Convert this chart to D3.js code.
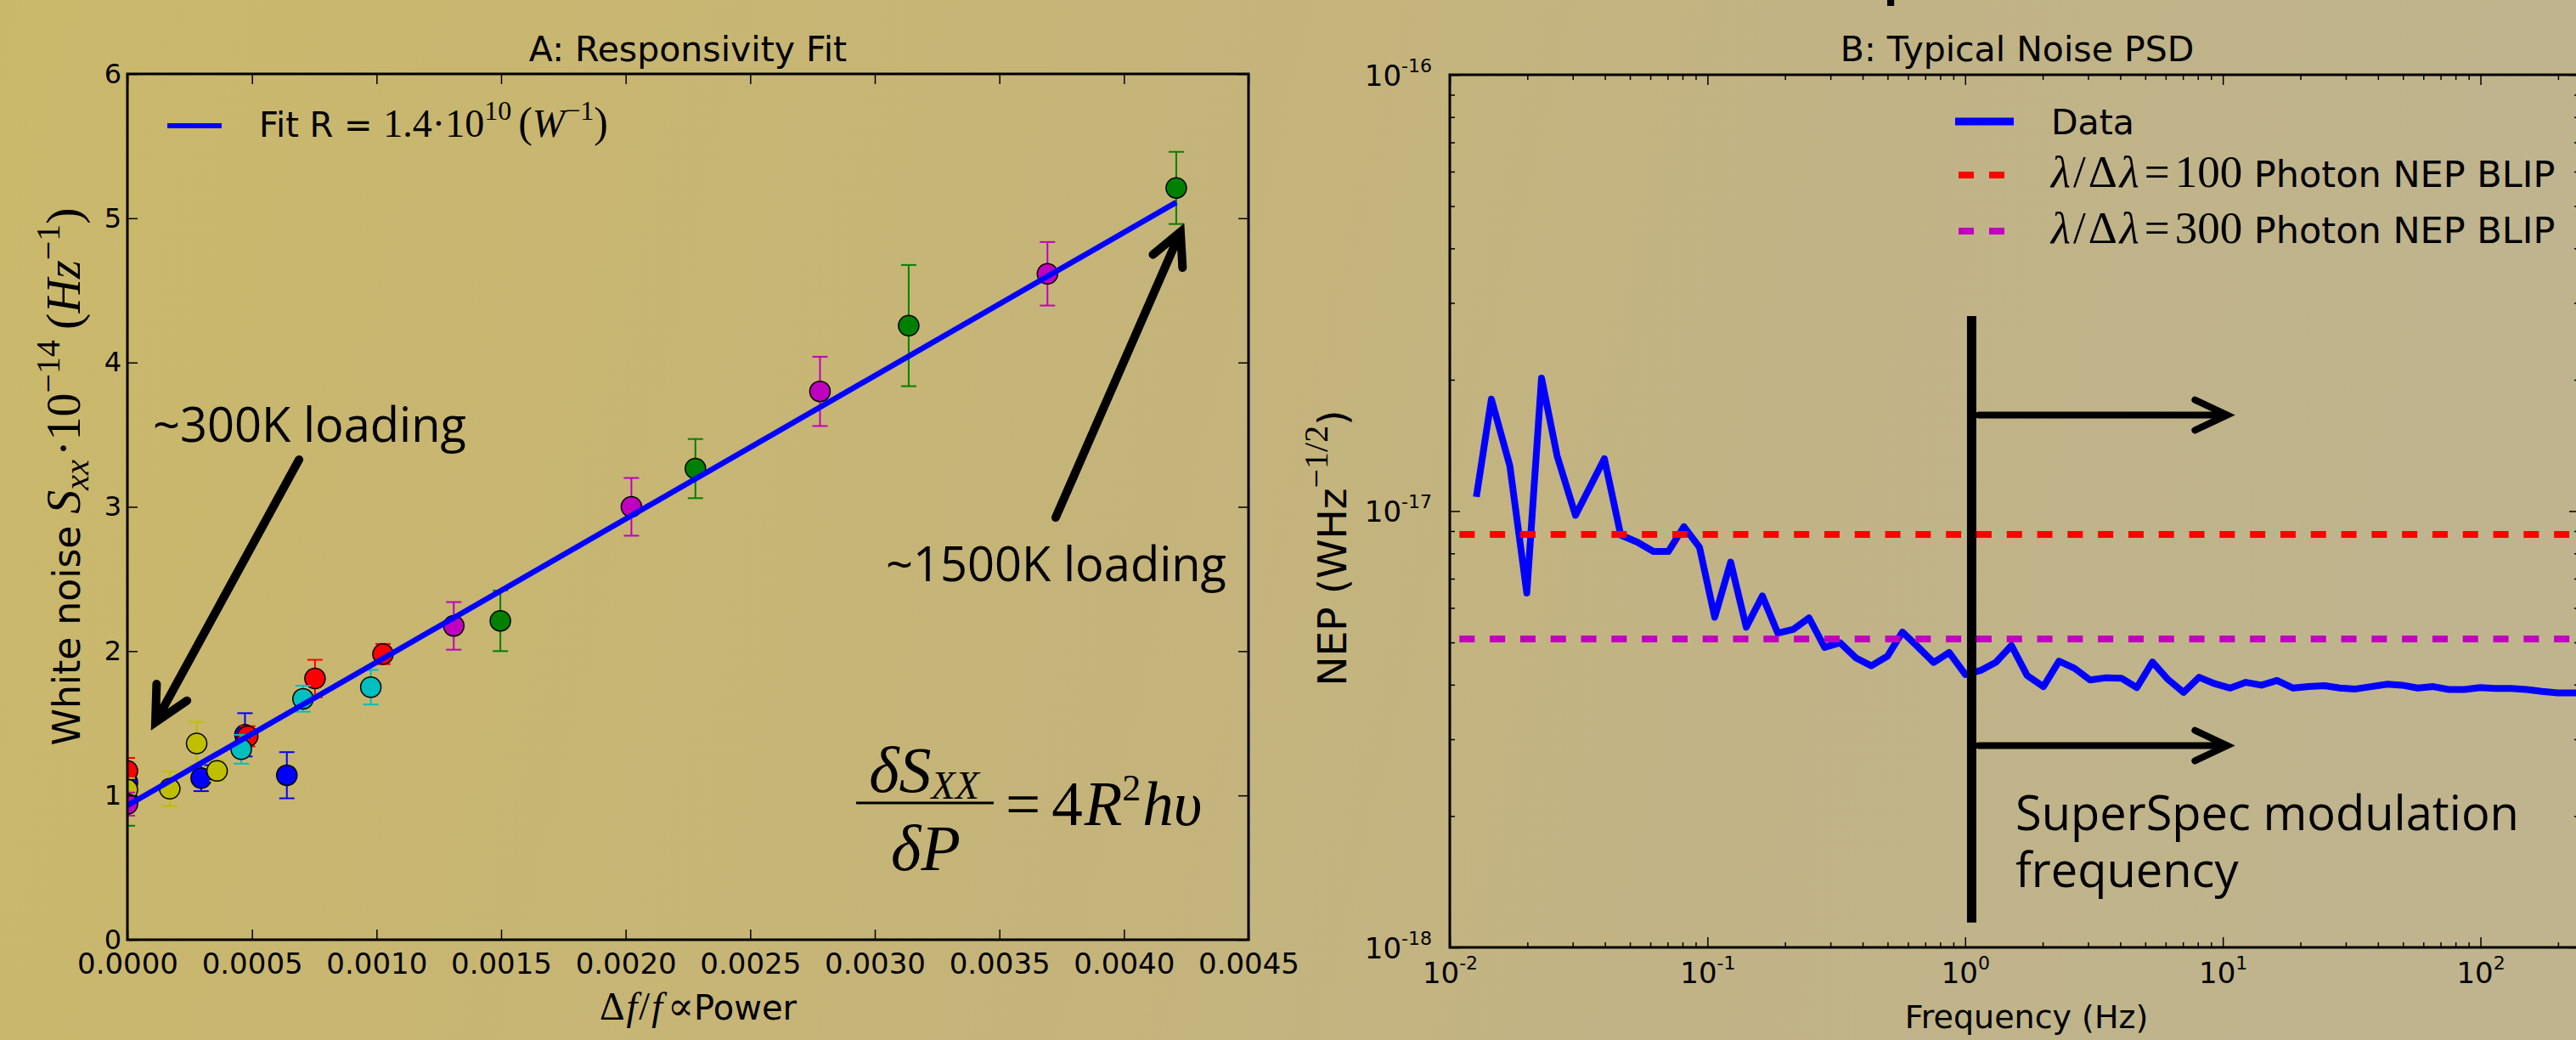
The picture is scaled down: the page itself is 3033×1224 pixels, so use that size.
<!DOCTYPE html>
<html>
<head>
<meta charset="utf-8">
<script src="https://cdn.jsdelivr.net/npm/d3@7"></script>
<style>
  html, body { margin: 0; padding: 0; overflow: hidden; }
  svg { display: block; }
</style>
</head>
<body>
<script>

  var W = 3033, H = 1224;
  var SANS = '"DejaVu Sans", sans-serif';
  var SERIF = '"Liberation Serif", "DejaVu Serif", serif';
  var PPT = '"Open Sans", "Noto Sans", sans-serif';

  // ---- panel A: white noise vs frequency shift ----
  var dfRed = [0, 0.000483, 0.000753, 0.001026];
  var sxxRed = [1.17, 1.41, 1.81, 1.98];
  var errRed = [0.09, 0.07, 0.13, 0.07];

  var dfBlue = [0, 0.000296, 0.000472, 0.00064];
  var sxxBlue = [1.09, 1.12, 1.42, 1.14];
  var errBlue = [0.10, 0.09, 0.15, 0.16];

  var dfYellow = [0, 0.00017, 0.000278, 0.00036];
  var sxxYellow = [1.04, 1.046, 1.36, 1.17];
  var errYellow = [0.08, 0.12, 0.15, 0.07];

  var dfCyan = [0.000457, 0.000705, 0.000977];
  var sxxCyan = [1.32, 1.67, 1.75];
  var errCyan = [0.10, 0.09, 0.12];

  var dfMagenta = [0, 0.00131, 0.002023, 0.00278, 0.003693];
  var sxxMagenta = [0.94, 2.175, 3.0, 3.80, 4.615];
  var errMagenta = [0.08, 0.165, 0.20, 0.24, 0.22];

  var dfGreen = [0, 0.001497, 0.00228, 0.003136, 0.00421];
  var sxxGreen = [0.96, 2.21, 3.265, 4.256, 5.21];
  var errGreen = [0.17, 0.21, 0.205, 0.42, 0.25];

  var fitDf = [0, 0.00421];
  var fitSxx = [0.93, 5.11];

  var xTicksA = [0, 0.0005, 0.001, 0.0015, 0.002, 0.0025, 0.003, 0.0035, 0.004, 0.0045];
  var yTicksA = [0, 1, 2, 3, 4, 5, 6];

  // ---- panel B: noise PSD ----
  var freqHz = [0.01268, 0.0145, 0.0171, 0.0199, 0.0227, 0.02609, 0.03075, 0.0398, 0.04607, 0.05337,
    0.06166, 0.07047, 0.08103, 0.09311, 0.1067, 0.123, 0.1414, 0.1633, 0.1876, 0.2158,
    0.2479, 0.2848, 0.3275, 0.3763, 0.4323, 0.4993, 0.5711, 0.6565, 0.7546, 0.867,
    1.002, 1.146, 1.316, 1.512, 1.739, 2.013, 2.313, 2.66, 3.056, 3.53,
    4.037, 4.639, 5.331, 6.131, 7.043, 8.091, 9.305, 10.69, 12.29, 14.13,
    16.23, 18.75, 21.49, 24.77, 28.46, 32.7, 37.6, 43.54, 49.64, 57.06,
    65.56, 75.37, 86.63, 99.54, 114.4, 131.5, 151.1, 173.6, 199.6, 229.4, 263];
  // NEP in units of 1e-18 W/Hz^1/2
  var nepE18 = [10.78, 18.05, 12.70, 6.49, 20.18, 13.38, 9.78, 13.18, 8.81, 8.49,
    8.08, 8.08, 9.21, 8.26, 5.71, 7.64, 5.42, 6.39, 5.25, 5.36,
    5.69, 4.87, 4.99, 4.61, 4.42, 4.65, 5.28, 4.88, 4.50, 4.74,
    4.22, 4.31, 4.50, 4.92, 4.20, 3.96, 4.53, 4.36, 4.10, 4.15,
    4.14, 3.94, 4.51, 4.11, 3.84, 4.16, 4.02, 3.93, 4.05, 3.99,
    4.09, 3.93, 3.96, 3.98, 3.93, 3.91, 3.96, 4.01, 3.99, 3.93,
    3.96, 3.90, 3.90, 3.94, 3.92, 3.92, 3.90, 3.86, 3.83, 3.83, 3.83];
  var nepUnit = 1e-18;
  var blip100 = 8.84e-18, blip300 = 5.09e-18, blipStartHz = 0.0109;

  var xMajorB = [0.01, 0.1, 1, 10, 100];
  var xExpB = ['-2', '-1', '0', '1', '2'];
  var yMajorB = [1e-18, 1e-17, 1e-16];
  var yExpB = ['-18', '-17', '-16'];

  // modulation marker (overlay), in data units
  var modHz = 1.06, modNepLo = 1.14e-18, modNepHi = 2.8e-17;
  var arrowHz = [1.13, 10.4], arrowNepHi = 1.66e-17, arrowNepLo = 2.9e-18;

  var colors = { b: '#0000ff', g: '#008000', r: '#ff0000', c: '#00bfbf', m: '#bf00bf', y: '#bfbf00' };

  var seriesA = [
    { c: 'g', x: dfGreen, y: sxxGreen, e: errGreen },
    { c: 'b', x: dfBlue, y: sxxBlue, e: errBlue },
    { c: 'r', x: dfRed, y: sxxRed, e: errRed },
    { c: 'c', x: dfCyan, y: sxxCyan, e: errCyan },
    { c: 'y', x: dfYellow, y: sxxYellow, e: errYellow },
    { c: 'm', x: dfMagenta, y: sxxMagenta, e: errMagenta }
  ];

  // rich text helper: parts carry their own font/size/baseline shift
  var rich = function (sel, parts) {
    var prev = 0;
    parts.forEach(function (p) {
      var s = p.shift || 0;
      var ts = sel.append('tspan').text(p.t);
      if (s - prev) ts.attr('dy', s - prev);
      prev = s;
      if (p.size) ts.attr('font-size', p.size);
      if (p.font) ts.attr('font-family', p.font);
      if (p.it === true) ts.attr('font-style', 'italic');
      if (p.it === false) ts.attr('font-style', 'normal');
      if (p.dx) ts.attr('dx', p.dx);
    });
    return sel;
  };

  var arrow = function (g, x1, y1, x2, y2, width, len, ang) {
    var a = Math.atan2(y1 - y2, x1 - x2);
    var p = d3.path();
    p.moveTo(x1, y1); p.lineTo(x2, y2);
    p.moveTo(x2 + len * Math.cos(a + ang), y2 + len * Math.sin(a + ang));
    p.lineTo(x2, y2);
    p.lineTo(x2 + len * Math.cos(a - ang), y2 + len * Math.sin(a - ang));
    g.append('path').attr('d', p.toString())
      .attr('fill', 'none').attr('stroke', '#000')
      .attr('stroke-width', width).attr('stroke-linecap', 'round').attr('stroke-linejoin', 'miter');
  };

  var svg = d3.select('body').append('svg').attr('width', W).attr('height', H);
  var defs = svg.append('defs');
  var grad = defs.append('linearGradient').attr('id', 'bg')
    .attr('x1', 0).attr('y1', 0).attr('x2', 1).attr('y2', 0.1);
  [[0, '#cab86a'], [0.5, '#c5b47a'], [0.72, '#c1b385'], [1, '#bfb48e']].forEach(function (s) {
    grad.append('stop').attr('offset', s[0]).attr('stop-color', s[1]);
  });
  svg.append('rect').attr('width', W).attr('height', H).attr('fill', 'url(#bg)');

  // slide title, only the descenders show at the very top
  [['(', 1330], [')', 1578], ['p', 2244], [')', 2718]].forEach(function (c) {
    svg.append('text').attr('x', c[1]).attr('y', -17).attr('text-anchor', 'middle')
      .attr('font-family', PPT).attr('font-size', 100).text(c[0]);
  });

  // ================= panel A =================
  var A = { left: 150, right: 1470, top: 87, bottom: 1106 };
  var xA = d3.scaleLinear().domain([0, 0.0045]).range([A.left, A.right]);
  var yA = d3.scaleLinear().domain([0, 6]).range([A.bottom, A.top]);

  defs.append('clipPath').attr('id', 'clipA').append('rect')
    .attr('x', A.left).attr('y', A.top).attr('width', A.right - A.left).attr('height', A.bottom - A.top);

  var plotA = svg.append('g').attr('clip-path', 'url(#clipA)');
  seriesA.forEach(function (s) {
    var pts = s.x.map(function (v, i) { return { x: v, y: s.y[i], e: s.e[i] }; });
    var col = colors[s.c];
    var g = plotA.append('g');
    pts.forEach(function (d) {
      var cx = xA(d.x), y1 = yA(d.y + d.e), y2 = yA(d.y - d.e);
      g.append('line').attr('x1', cx).attr('x2', cx).attr('y1', y1).attr('y2', y2)
        .attr('stroke', col).attr('stroke-width', 2);
      [y1, y2].forEach(function (yy) {
        g.append('line').attr('x1', cx - 9).attr('x2', cx + 9).attr('y1', yy).attr('y2', yy)
          .attr('stroke', col).attr('stroke-width', 2);
      });
    });
    g.selectAll('circle').data(pts).enter().append('circle')
      .attr('cx', function (d) { return xA(d.x); })
      .attr('cy', function (d) { return yA(d.y); })
      .attr('r', 12).attr('fill', col).attr('stroke', '#000').attr('stroke-width', 1.5);
  });

  var fitPts = fitDf.map(function (v, i) { return [v, fitSxx[i]]; });
  plotA.append('path').datum(fitPts)
    .attr('d', d3.line().x(function (d) { return xA(d[0]); }).y(function (d) { return yA(d[1]); }))
    .attr('fill', 'none').attr('stroke', colors.b).attr('stroke-width', 6.5);

  // axes A
  var axA = svg.append('g');
  axA.append('g').attr('transform', 'translate(0,' + A.bottom + ')')
    .call(d3.axisBottom(xA).tickValues(xTicksA).tickSizeInner(-12).tickSizeOuter(0).tickFormat(d3.format('.4f')));
  axA.append('g').attr('transform', 'translate(0,' + A.top + ')')
    .call(d3.axisTop(xA).tickValues(xTicksA).tickSizeInner(-12).tickSizeOuter(0).tickFormat(''));
  axA.append('g').attr('class', 'yl').attr('transform', 'translate(' + A.left + ',0)')
    .call(d3.axisLeft(yA).tickValues(yTicksA).tickSizeInner(-12).tickSizeOuter(0).tickFormat(d3.format('d')));
  axA.append('g').attr('transform', 'translate(' + A.right + ',0)')
    .call(d3.axisRight(yA).tickValues(yTicksA).tickSizeInner(-12).tickSizeOuter(0).tickFormat(''));
  axA.selectAll('.domain').remove();
  axA.selectAll('.tick line').attr('stroke', '#000').attr('stroke-width', 1.5);
  axA.selectAll('g').attr('font-family', SANS).attr('font-size', 34);
  axA.selectAll('.tick text').attr('fill', '#000');
  axA.select('g').selectAll('.tick text').attr('y', 16);
  axA.select('.yl').selectAll('.tick text').attr('x', -7).attr('font-size', 32);
  axA.append('rect').attr('x', A.left).attr('y', A.top)
    .attr('width', A.right - A.left).attr('height', A.bottom - A.top)
    .attr('fill', 'none').attr('stroke', '#000').attr('stroke-width', 3);

  svg.append('text').attr('x', (A.left + A.right) / 2).attr('y', 72).attr('text-anchor', 'middle')
    .attr('font-family', SANS).attr('font-size', 41).text('A: Responsivity Fit');

  rich(svg.append('text').attr('x', 822).attr('y', 1200).attr('text-anchor', 'middle')
    .attr('font-family', SERIF).attr('font-size', 46), [
    { t: 'Δ' }, { t: 'f', it: true, dx: 2 }, { t: '/', dx: 2 }, { t: 'f', it: true, dx: 2 }, { t: '∝', dx: 6 },
    { t: 'Power', font: SANS, size: 40 }
  ]);

  rich(svg.append('text').attr('transform', 'translate(94,561) rotate(-90)').attr('text-anchor', 'middle')
    .attr('font-family', SANS).attr('font-size', 44), [
    { t: 'White noise ' },
    { t: 'S', font: SERIF, it: true, size: 56 },
    { t: 'xx', font: SERIF, it: true, size: 40, shift: 10 },
    { t: '·10', font: SERIF, size: 56, shift: 0, dx: 4 },
    { t: '−14', font: SERIF, size: 40, shift: -24 },
    { t: '(', font: SERIF, size: 58, shift: 0, dx: 12 },
    { t: 'Hz', font: SERIF, it: true, size: 56 },
    { t: '−1', font: SERIF, size: 40, shift: -24 },
    { t: ')', font: SERIF, size: 58, shift: 0 }
  ]);

  // legend A
  svg.append('line').attr('x1', 197).attr('x2', 261).attr('y1', 148).attr('y2', 148)
    .attr('stroke', colors.b).attr('stroke-width', 6);
  rich(svg.append('text').attr('x', 305).attr('y', 161).attr('font-family', SANS).attr('font-size', 40), [
    { t: 'Fit R = ' },
    { t: '1.4·10', font: SERIF, size: 46 },
    { t: '10', font: SERIF, size: 32, shift: -20 },
    { t: '(', font: SERIF, size: 50, shift: 0, dx: 8 },
    { t: 'W', font: SERIF, it: true, size: 46 },
    { t: '−1', font: SERIF, size: 32, shift: -20 },
    { t: ')', font: SERIF, size: 50, shift: 0 }
  ]);

  // annotations A
  var annA = svg.append('g');
  arrow(annA, xA(0.000689), yA(3.327), xA(0.0001125), yA(1.507), 10, 45, 0.47);
  arrow(annA, xA(0.003726), yA(2.926), xA(0.004227), yA(4.905), 10, 42, 0.47);
  annA.append('text').attr('x', 180).attr('y', 520).attr('font-family', PPT).attr('font-size', 56).text('~300K loading');
  annA.append('text').attr('x', 1043).attr('y', 684).attr('font-family', PPT).attr('font-size', 56).text('~1500K loading');

  // equation
  var eq = svg.append('g').attr('font-family', SERIF).attr('font-style', 'italic').attr('font-size', 76);
  rich(eq.append('text').attr('x', 1088).attr('y', 932).attr('text-anchor', 'middle'), [
    { t: 'δS' }, { t: 'XX', size: 46, shift: 8 }
  ]);
  eq.append('line').attr('x1', 1008).attr('x2', 1170).attr('y1', 945).attr('y2', 945)
    .attr('stroke', '#000').attr('stroke-width', 3);
  eq.append('text').attr('x', 1090).attr('y', 1024).attr('text-anchor', 'middle').text('δP');
  rich(eq.append('text').attr('x', 1184).attr('y', 971).attr('font-size', 73), [
    { t: '=', it: false }, { t: '4', it: false, dx: 13 }, { t: 'R', dx: 2 },
    { t: '2', size: 44, shift: -29, it: false },
    { t: 'hυ', shift: 0, dx: 2 }
  ]);

  // ================= panel B =================
  var B = { left: 1707, right: 3037, top: 88, bottom: 1115 };
  var xB = d3.scaleLog().domain([0.01, 242]).range([B.left, B.right]);
  var yB = d3.scaleLog().domain([1e-18, 1e-16]).range([B.bottom, B.top]);

  defs.append('clipPath').attr('id', 'clipB').append('rect')
    .attr('x', B.left).attr('y', B.top).attr('width', B.right - B.left).attr('height', B.bottom - B.top);
  var plotB = svg.append('g').attr('clip-path', 'url(#clipB)');

  var psd = freqHz.map(function (f, i) { return { f: f, n: nepE18[i] * nepUnit }; });
  plotB.append('path').datum(psd)
    .attr('d', d3.line().x(function (d) { return xB(d.f); }).y(function (d) { return yB(d.n); }))
    .attr('fill', 'none').attr('stroke', colors.b).attr('stroke-width', 8)
    .attr('stroke-linejoin', 'round');

  [[blip100, colors.r], [blip300, colors.m]].forEach(function (b) {
    plotB.append('line').attr('x1', xB(blipStartHz)).attr('x2', xB(xB.domain()[1]))
      .attr('y1', yB(b[0])).attr('y2', yB(b[0]))
      .attr('stroke', b[1]).attr('stroke-width', 8).attr('stroke-dasharray', '18,17.8');
  });

  var minorX = xB.ticks().filter(function (v) { return xMajorB.indexOf(v) < 0; });
  var minorY = yB.ticks().filter(function (v) { return yMajorB.indexOf(v) < 0; });

  var axB = svg.append('g');
  var bx = axB.append('g').attr('transform', 'translate(0,' + B.bottom + ')')
    .call(d3.axisBottom(xB).tickValues(xMajorB).tickSizeInner(-12).tickSizeOuter(0).tickFormat(''));
  axB.append('g').attr('transform', 'translate(0,' + B.bottom + ')')
    .call(d3.axisBottom(xB).tickValues(minorX).tickSizeInner(-6).tickSizeOuter(0).tickFormat(''));
  axB.append('g').attr('transform', 'translate(0,' + B.top + ')')
    .call(d3.axisTop(xB).tickValues(xMajorB).tickSizeInner(-12).tickSizeOuter(0).tickFormat(''));
  axB.append('g').attr('transform', 'translate(0,' + B.top + ')')
    .call(d3.axisTop(xB).tickValues(minorX).tickSizeInner(-6).tickSizeOuter(0).tickFormat(''));
  var by = axB.append('g').attr('transform', 'translate(' + B.left + ',0)')
    .call(d3.axisLeft(yB).tickValues(yMajorB).tickSizeInner(-12).tickSizeOuter(0).tickFormat(''));
  axB.append('g').attr('transform', 'translate(' + B.left + ',0)')
    .call(d3.axisLeft(yB).tickValues(minorY).tickSizeInner(-6).tickSizeOuter(0).tickFormat(''));
  axB.append('g').attr('transform', 'translate(' + B.right + ',0)')
    .call(d3.axisRight(yB).tickValues(yMajorB).tickSizeInner(-12).tickSizeOuter(0).tickFormat(''));
  axB.append('g').attr('transform', 'translate(' + B.right + ',0)')
    .call(d3.axisRight(yB).tickValues(minorY).tickSizeInner(-6).tickSizeOuter(0).tickFormat(''));
  axB.selectAll('.domain').remove();
  axB.selectAll('.tick line').attr('stroke', '#000').attr('stroke-width', 1.5);
  axB.selectAll('.tick text').remove();

  bx.selectAll('.tick').each(function (d, i) {
    rich(d3.select(this).append('text').attr('y', 42).attr('text-anchor', 'middle')
      .attr('font-family', SANS).attr('font-size', 34).attr('fill', '#000'), [
      { t: '10' }, { t: xExpB[i], size: 22, shift: -16 }
    ]);
  });
  by.selectAll('.tick').each(function (d, i) {
    rich(d3.select(this).append('text').attr('x', -21).attr('y', 12).attr('text-anchor', 'end')
      .attr('font-family', SANS).attr('font-size', 34).attr('fill', '#000'), [
      { t: '10' }, { t: yExpB[i], size: 22, shift: -16 }
    ]);
  });

  axB.append('rect').attr('x', B.left).attr('y', B.top)
    .attr('width', B.right - B.left).attr('height', B.bottom - B.top)
    .attr('fill', 'none').attr('stroke', '#000').attr('stroke-width', 3);

  svg.append('text').attr('x', 2375).attr('y', 72).attr('text-anchor', 'middle')
    .attr('font-family', SANS).attr('font-size', 41).text('B: Typical Noise PSD');
  svg.append('text').attr('x', 2386).attr('y', 1210).attr('text-anchor', 'middle')
    .attr('font-family', SANS).attr('font-size', 38).text('Frequency (Hz)');
  rich(svg.append('text').attr('transform', 'translate(1585,645) rotate(-90)').attr('text-anchor', 'middle')
    .attr('font-family', SANS).attr('font-size', 47), [
    { t: 'NEP (WHz' },
    { t: '−1/2', font: SERIF, size: 40, shift: -22 },
    { t: ')', shift: 0 }
  ]);

  // legend B
  var legB = svg.append('g');
  legB.append('line').attr('x1', 2302).attr('x2', 2371).attr('y1', 143).attr('y2', 143)
    .attr('stroke', colors.b).attr('stroke-width', 9);
  legB.append('text').attr('x', 2415).attr('y', 158).attr('font-family', SANS).attr('font-size', 41).text('Data');
  [[colors.r, '100', 206, 220], [colors.m, '300', 272, 286]].forEach(function (l) {
    legB.append('line').attr('x1', 2306).attr('x2', 2371).attr('y1', l[2]).attr('y2', l[2])
      .attr('stroke', l[0]).attr('stroke-width', 8).attr('stroke-dasharray', '18,18');
    rich(legB.append('text').attr('x', 2415).attr('y', l[3]).attr('font-family', SERIF).attr('font-size', 53), [
      { t: 'λ', it: true }, { t: '/', dx: 3 }, { t: 'Δ', dx: 3 }, { t: 'λ', it: true, dx: 3 },
      { t: '=', dx: 6 }, { t: l[1], dx: 6 },
      { t: ' Photon NEP BLIP', font: SANS, size: 43 }
    ]);
  });

  // modulation frequency overlay
  var annB = svg.append('g');
  annB.append('line').attr('x1', xB(modHz)).attr('x2', xB(modHz))
    .attr('y1', yB(modNepHi)).attr('y2', yB(modNepLo))
    .attr('stroke', '#000').attr('stroke-width', 11);
  arrow(annB, xB(arrowHz[0]), yB(arrowNepHi), xB(arrowHz[1]), yB(arrowNepHi), 8, 42, 0.44);
  arrow(annB, xB(arrowHz[0]), yB(arrowNepLo), xB(arrowHz[1]), yB(arrowNepLo), 8, 42, 0.44);
  annB.append('text').attr('x', 2373).attr('y', 977).attr('font-family', PPT).attr('font-size', 56).text('SuperSpec modulation');
  annB.append('text').attr('x', 2373).attr('y', 1044).attr('font-family', PPT).attr('font-size', 56).text('frequency');

</script>
</body>
</html>
